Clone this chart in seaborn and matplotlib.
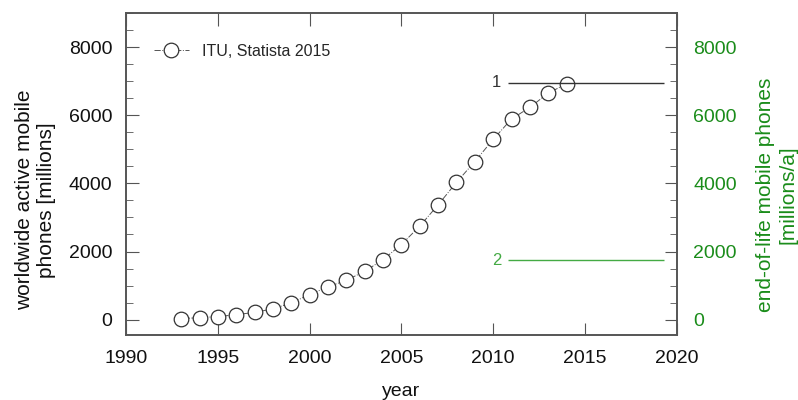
import numpy as np
import pandas as pd
import matplotlib
matplotlib.use("Agg")
import matplotlib.pyplot as plt
import seaborn as sns
from matplotlib.ticker import MultipleLocator

# data
years = [1993, 1994, 1995, 1996, 1997, 1998, 1999, 2000, 2001, 2002, 2003,
         2004, 2005, 2006, 2007, 2008, 2009, 2010, 2011, 2012, 2013, 2014]
active_phones = [34, 56, 91, 145, 215, 318, 490, 738, 961, 1157, 1418,
                 1763, 2205, 2745, 3368, 4030, 4640, 5290, 5890, 6230, 6650, 6920]
series_label = "ITU, Statista 2015"

# horizontal reference levels (1 on left axis, 2 on right axis)
ref_labels = ["1", "2"]
ref_levels = [6950, 1750]
ref_start = 2010.8
ref_end = 2019.3

green = "#1a8c1a"
light_green = "#44aa44"

sns.set_style("ticks")
plt.rcParams["font.family"] = ["Liberation Sans", "DejaVu Sans"]
plt.rcParams["font.size"] = 14

df = pd.DataFrame({"year": years, "phones": active_phones})

fig = plt.figure(figsize=(7.98, 4.0), dpi=100)
ax = fig.add_axes([0.158, 0.1625, 0.69, 0.805])

sns.lineplot(data=df, x="year", y="phones", ax=ax, color="#555555",
             linestyle="-.", linewidth=0.7, marker="o", markersize=10.5,
             markerfacecolor="white", markeredgecolor="#333333",
             markeredgewidth=0.9, label=series_label)

# reference line 1 (left axis)
ax.hlines(ref_levels[0], ref_start, ref_end, color="#333333", linewidth=1)
ax.text(ref_start - 0.35, ref_levels[0], ref_labels[0], ha="right", va="center",
        fontsize=12, color="#333333")

ax.set_xlim(1990, 2020)
ax.set_ylim(-450, 9000)
ax.xaxis.set_major_locator(MultipleLocator(5))
ax.yaxis.set_major_locator(MultipleLocator(2000))
ax.yaxis.set_minor_locator(MultipleLocator(500))
ax.tick_params(axis="both", which="major", direction="in", length=9,
               color="#555555", top=True, pad=10, labelsize=14,
               labelcolor="#111111")
ax.tick_params(axis="y", which="minor", direction="in", length=5, color="#555555")
ax.tick_params(axis="x", pad=11)
ax.set_xlabel("year", fontsize=14, labelpad=11, color="#111111")
ax.set_ylabel("worldwide active mobile\nphones [millions]", fontsize=15,
              labelpad=9, color="#111111")
ax.yaxis.label.set_y(0.42)
for s in ax.spines.values():
    s.set_color("#555555")
    s.set_linewidth(1.2)

leg = ax.legend(loc="upper left", frameon=False, fontsize=11.5, handlelength=2.2,
                borderaxespad=0.3, bbox_to_anchor=(0.03, 0.94))

# right axis
ax2 = ax.twinx()
ax2.set_ylim(-450, 9000)
ax2.yaxis.set_major_locator(MultipleLocator(2000))
ax2.yaxis.set_minor_locator(MultipleLocator(500))
ax2.tick_params(axis="y", which="major", direction="in", length=9,
                color="#555555", labelcolor=green, pad=12, labelsize=14)
ax2.tick_params(axis="y", which="minor", direction="in", length=5, color="#555555")
ax2.set_ylabel("end-of-life mobile phones\n[millions/a]", color=green,
               fontsize=15, labelpad=14)
ax2.yaxis.label.set_y(0.435)
for s in ax2.spines.values():
    s.set_color("#555555")
    s.set_linewidth(1.2)

ax2.hlines(ref_levels[1], ref_start, ref_end, color=light_green, linewidth=1)
ax2.text(ref_start - 0.35, ref_levels[1], ref_labels[1], ha="right", va="center",
         fontsize=12, color=light_green)

fig.savefig("out.png", dpi=100)
